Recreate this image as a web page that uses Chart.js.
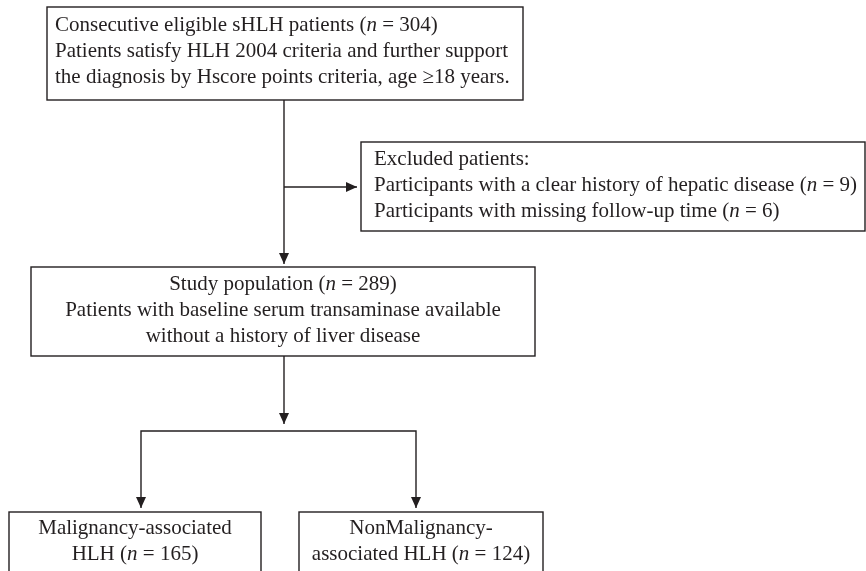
<!DOCTYPE html>
<html>
<head>
<meta charset="utf-8">
<script src="https://cdn.jsdelivr.net/npm/chart.js@4.4.1/dist/chart.umd.min.js"></script>
<style>
  html, body { margin: 0; padding: 0; background: #fff; }
  .wrap { width: 866px; height: 571px; position: relative; }
</style>
</head>
<body>
<div class="wrap"><canvas id="flow"></canvas></div>
<script>
/* Patient counts */
const screenedN = 304;
const excludedHepatic = 9;
const excludedFollowUp = 6;
const studyN = 289;
const malignantN = 165;
const nonMalignantN = 124;

/* Box texts; {n} is drawn as an italic n */
const screenLines = [
    `Consecutive eligible sHLH patients ({n} = ${screenedN})`,
    'Patients satisfy HLH 2004 criteria and further support',
    'the diagnosis by Hscore points criteria, age \u226518 years.'
];
const excludedLines = [
    'Excluded patients:',
    `Participants with a clear history of hepatic disease ({n} = ${excludedHepatic})`,
    `Participants with missing follow-up time ({n} = ${excludedFollowUp})`
];
const studyLines = [
    `Study population ({n} = ${studyN})`,
    'Patients with baseline serum transaminase available',
    'without a history of liver disease'
];
const malignantLines = ['Malignancy-associated', `HLH ({n} = ${malignantN})`];
const nonMalignantLines = ['NonMalignancy-', `associated HLH ({n} = ${nonMalignantN})`];

/* Layout in scale units (same as pixels here) */
const boxes = [
    { x0: 47, x1: 523, y0: 7, y1: 100, align: 'left', tx: 55, ty: 25, lines: screenLines },
    { x0: 361, x1: 865, y0: 142, y1: 231, align: 'left', tx: 374, ty: 159, lines: excludedLines },
    { x0: 31, x1: 535, y0: 267, y1: 356, align: 'center', ty: 284, lines: studyLines },
    { x0: 9, x1: 261, y0: 512, y1: 600, align: 'center', ty: 528, lines: malignantLines },
    { x0: 299, x1: 543, y0: 512, y1: 600, align: 'center', ty: 528, lines: nonMalignantLines }
];
const connectors = [
    { pts: [[284, 100], [284, 264]], arrow: true },
    { pts: [[284, 187], [357, 187]], arrow: true },
    { pts: [[284, 356], [284, 424]], arrow: true },
    { pts: [[141, 508], [141, 431], [416, 431], [416, 508]], arrow: true, arrowStart: true }
];
const lineGap = 26;
const fontSize = 21;
const fontFamily = '"Liberation Serif", "DejaVu Serif", serif';
const ink = '#231f20';

function runs(text) {
    const parts = text.split('{n}');
    const out = [];
    parts.forEach(function(p, i) {
        if (i > 0) out.push({ t: 'n', italic: true });
        if (p) out.push({ t: p, italic: false });
    });
    return out;
}

function setFont(ctx, italic) {
    ctx.font = (italic ? 'italic ' : '') + fontSize + 'px ' + fontFamily;
}

function drawArrowHead(ctx, x, y, fromX, fromY) {
    const ang = Math.atan2(y - fromY, x - fromX);
    const len = 11, half = 5;
    ctx.beginPath();
    ctx.moveTo(x, y);
    ctx.lineTo(x - len * Math.cos(ang) + half * Math.sin(ang), y - len * Math.sin(ang) - half * Math.cos(ang));
    ctx.lineTo(x - len * Math.cos(ang) - half * Math.sin(ang), y - len * Math.sin(ang) + half * Math.cos(ang));
    ctx.closePath();
    ctx.fill();
}

const flowPlugin = {
    id: 'flow',
    afterDatasetsDraw(chart) {
        const ctx = chart.ctx;
        const sx = chart.scales.x, sy = chart.scales.y;
        const px = v => sx.getPixelForValue(v);
        const py = v => sy.getPixelForValue(v);
        ctx.save();
        ctx.strokeStyle = ink;
        ctx.fillStyle = ink;
        ctx.lineWidth = 1.4;

        boxes.forEach(function(b) {
            ctx.strokeRect(px(b.x0), py(b.y0), px(b.x1) - px(b.x0), py(b.y1) - py(b.y0));
            ctx.textBaseline = 'middle';
            b.lines.forEach(function(line, i) {
                const rs = runs(line);
                let w = 0;
                rs.forEach(function(r) { setFont(ctx, r.italic); r.w = ctx.measureText(r.t).width; w += r.w; });
                let x = b.align === 'left' ? px(b.tx) : (px(b.x0) + px(b.x1)) / 2 - w / 2;
                const y = py(b.ty + i * lineGap);
                rs.forEach(function(r) {
                    setFont(ctx, r.italic);
                    ctx.textAlign = 'left';
                    ctx.fillText(r.t, x, y);
                    x += r.w;
                });
            });
        });

        connectors.forEach(function(c) {
            ctx.beginPath();
            c.pts.forEach(function(p, i) {
                if (i === 0) ctx.moveTo(px(p[0]), py(p[1]));
                else ctx.lineTo(px(p[0]), py(p[1]));
            });
            ctx.stroke();
            const n = c.pts.length;
            if (c.arrow) {
                drawArrowHead(ctx, px(c.pts[n - 1][0]), py(c.pts[n - 1][1]), px(c.pts[n - 2][0]), py(c.pts[n - 2][1]));
            }
            if (c.arrowStart) {
                drawArrowHead(ctx, px(c.pts[0][0]), py(c.pts[0][1]), px(c.pts[1][0]), py(c.pts[1][1]));
            }
        });
        ctx.restore();
    }
};

new Chart(document.getElementById('flow'), {
    type: 'scatter',
    data: { datasets: [{ data: [], pointRadius: 0 }] },
    options: {
        responsive: true,
        maintainAspectRatio: false,
        animation: false,
        layout: { padding: 0 },
        plugins: { legend: { display: false }, tooltip: { enabled: false } },
        scales: {
            x: { type: 'linear', min: 0, max: 866, display: false },
            y: { type: 'linear', min: 0, max: 571, reverse: true, display: false }
        }
    },
    plugins: [flowPlugin]
});
</script>
</body>
</html>
